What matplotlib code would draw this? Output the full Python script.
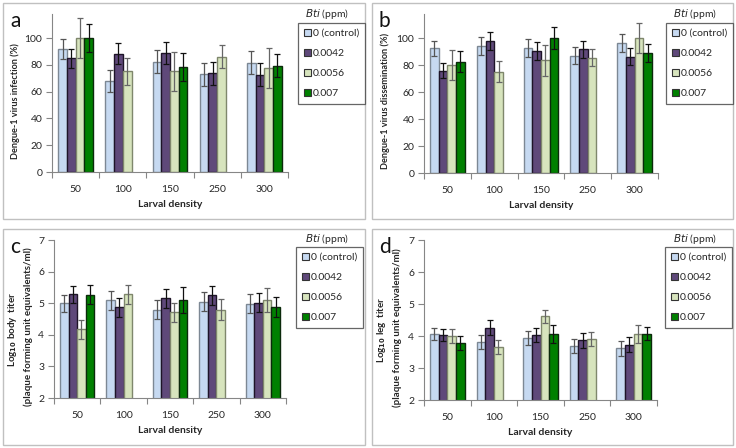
import numpy as np
import matplotlib
matplotlib.use("Agg")
import matplotlib.pyplot as plt
from matplotlib.patches import Rectangle, Patch

plt.rcParams['font.family'] = ['Lato', 'DejaVu Sans']
plt.rcParams['mathtext.fontset'] = 'dejavusans'

nan = np.nan
categories = ['50', '100', '150', '250', '300']
series = ['0 (control)', '0.0042', '0.0056', '0.007']

inf_ctrl = [92, 68, 82.5, 73, 81.5]
inf_ctrl_err = [7.3, 8, 8.3, 8.4, 8.5]
inf_0042 = [85, 88.4, 89, 73.6, 72.6]
inf_0042_err = [7.2, 8, 8, 8.5, 8.6]
inf_0056 = [100, 75.3, 75.3, 86.2, 77.8]
inf_0056_err = [15, 10, 14.5, 8.5, 15]
inf_007 = [100, nan, 78.5, nan, 79.5]
inf_007_err = [10.4, nan, 10.4, nan, 8.5]

dis_ctrl = [92.5, 94, 92.5, 87, 96.5]
dis_ctrl_err = [5.5, 6.7, 6.6, 6.2, 6.5]
dis_0042 = [76, 98.2, 90.5, 91.7, 86.2]
dis_0042_err = [5.7, 6.6, 6.6, 6.6, 6.4]
dis_0056 = [80, 75.2, 83.5, 85.7, 100]
dis_0056_err = [11, 7.9, 11.2, 6.6, 11.2]
dis_007 = [82.7, nan, 100, nan, 89]
dis_007_err = [7.8, nan, 8.2, nan, 6.4]

body_ctrl = [5.0, 5.09, 4.79, 5.04, 4.98]
body_ctrl_err = [0.27, 0.3, 0.3, 0.3, 0.3]
body_0042 = [5.28, 4.87, 5.16, 5.25, 5.02]
body_0042_err = [0.28, 0.3, 0.3, 0.3, 0.31]
body_0056 = [4.18, 5.29, 4.71, 4.8, 5.1]
body_0056_err = [0.3, 0.3, 0.3, 0.32, 0.39]
body_007 = [5.27, nan, 5.1, nan, 4.88]
body_007_err = [0.3, nan, 0.4, nan, 0.32]

leg_ctrl = [4.07, 3.82, 3.94, 3.68, 3.61]
leg_ctrl_err = [0.18, 0.22, 0.22, 0.22, 0.22]
leg_0042 = [4.04, 4.26, 4.03, 3.86, 3.73]
leg_0042_err = [0.19, 0.23, 0.22, 0.23, 0.23]
leg_0056 = [4.0, 3.65, 4.61, 3.91, 4.07]
leg_0056_err = [0.22, 0.22, 0.21, 0.22, 0.28]
leg_007 = [3.78, nan, 4.07, nan, 4.07]
leg_007_err = [0.23, nan, 0.28, nan, 0.21]

face_colors = ['#c6d9f1', '#5f497a', '#d7e4bd', '#008000']
edge_colors = ['#7d8894', '#1e1428', '#7f876c', '#0b2a0b']
err_colors = ['#555555', '#111111', '#666666', '#111111']

W, H = 736, 448
fig = plt.figure(figsize=(W / 100, H / 100), dpi=100)


def fx(px):
    return px / W


def fy(py):
    return 1 - py / H


panels = [
    dict(label='a', box=(3, 3, 365, 219), ax=(52, 14, 288, 172), ylim=(0, 118),
         yticks=[0, 20, 40, 60, 80, 100],
         ylabel='Dengue-1 virus infection (%)', ylx=15, yly=101, yls=6.6, yl1=None,
         data=[(inf_ctrl, inf_ctrl_err), (inf_0042, inf_0042_err),
               (inf_0056, inf_0056_err), (inf_007, inf_007_err)],
         leg=(298, 23), title=(327, 14)),
    dict(label='b', box=(372, 3, 733, 219), ax=(424, 14, 658, 173), ylim=(0, 118),
         yticks=[0, 20, 40, 60, 80, 100],
         ylabel='Dengue-1 virus dissemination (%)', ylx=385, yly=101, yls=6.6, yl1=None,
         data=[(dis_ctrl, dis_ctrl_err), (dis_0042, dis_0042_err),
               (dis_0056, dis_0056_err), (dis_007, dis_007_err)],
         leg=(666, 23), title=(695, 14)),
    dict(label='c', box=(3, 229, 365, 445), ax=(54, 240, 286, 398), ylim=(2, 7),
         yticks=[2, 3, 4, 5, 6, 7],
         ylabel='(plaque forming unit equivalents/ml)', ylx=28, yly=327, yls=7,
         yl1=(r'Log$_{\mathbf{10}}$ body  titer', 13),
         data=[(body_ctrl, body_ctrl_err), (body_0042, body_0042_err),
               (body_0056, body_0056_err), (body_007, body_007_err)],
         leg=(296, 247), title=(327, 239)),
    dict(label='d', box=(372, 229, 733, 445), ax=(424, 240, 657, 400), ylim=(2, 7),
         yticks=[2, 3, 4, 5, 6, 7],
         ylabel='(plaque forming unit equivalents/ml)', ylx=397, yly=328, yls=7,
         yl1=(r'Log$_{\mathbf{10}}$ leg  titer', 382),
         data=[(leg_ctrl, leg_ctrl_err), (leg_0042, leg_0042_err),
               (leg_0056, leg_0056_err), (leg_007, leg_007_err)],
         leg=(665, 247), title=(695, 239)),
]

x = np.arange(len(categories))
bw = 0.185
axis_gray = '#868686'
txt = '#262626'

for p in panels:
    bx0, by0, bx1, by1 = p['box']
    fig.patches.append(Rectangle((fx(bx0), fy(by1)), fx(bx1 - bx0), (by1 - by0) / H,
                                 transform=fig.transFigure, fill=False,
                                 edgecolor='#c0c0c0', linewidth=1.0))
    ax0, ay0, ax1, ay1 = p['ax']
    ax = fig.add_axes([fx(ax0), fy(ay1), fx(ax1 - ax0), (ay1 - ay0) / H])
    for i, (vals, errs) in enumerate(p['data']):
        xs = x + (i - 1.5) * bw
        ax.bar(xs, vals, width=bw, color=face_colors[i], edgecolor=edge_colors[i],
               linewidth=1.0, label=series[i], zorder=2)
        ax.errorbar(xs, vals, yerr=errs, fmt='none', ecolor=err_colors[i],
                    elinewidth=0.9, capsize=2.5, capthick=0.9, zorder=3)
    ax.set_xlim(-0.5, len(categories) - 0.5)
    ax.set_ylim(*p['ylim'])
    ax.set_yticks(p['yticks'])
    ax.set_xticks(x)
    ax.set_xticklabels(categories)
    ax.set_xticks(np.arange(-0.5, len(categories)), minor=True)
    ax.tick_params(axis='x', which='major', length=0, pad=9, labelsize=7.5, labelcolor=txt)
    ax.tick_params(axis='x', which='minor', length=4, color=axis_gray, width=0.8)
    ax.tick_params(axis='y', length=4, color=axis_gray, width=0.8, labelsize=7.5,
                   labelcolor=txt, pad=3)
    for s in ['top', 'right']:
        ax.spines[s].set_visible(False)
    for s in ['left', 'bottom']:
        ax.spines[s].set_color(axis_gray)
        ax.spines[s].set_linewidth(0.8)
    ax.set_xlabel('Larval density', fontsize=7.5, fontweight='bold', color=txt, labelpad=5)
    ax.set_ylabel(p['ylabel'], fontsize=p['yls'], fontweight='bold', color=txt)
    ax.yaxis.set_label_coords((p['ylx'] - ax0) / (ax1 - ax0),
                              (ay1 - p['yly']) / (ay1 - ay0))
    ax.yaxis.label.set_va('center')
    ax.patch.set_visible(False)
    if p['yl1'] is not None:
        s1, px1 = p['yl1']
        fig.text(fx(px1), fy(p['yly'] + 2), s1, rotation=90, fontsize=7,
                 fontweight='bold', color=txt, ha='center', va='center')

    fig.text(fx(bx0 + 7), fy(by0 + 24), p['label'], fontsize=15, color='#111111',
             ha='left', va='baseline')

    handles = [Patch(facecolor=face_colors[i], edgecolor='#333333', linewidth=0.8,
                     label=series[i]) for i in range(4)]
    lx, ly = p['leg']
    leg = fig.legend(handles=handles, loc='upper left',
                     bbox_to_anchor=(fx(lx), fy(ly)), bbox_transform=fig.transFigure,
                     fontsize=7.5, frameon=True, fancybox=False, edgecolor='#404040',
                     handlelength=0.65, handleheight=0.65, handletextpad=0.25,
                     labelspacing=1.05, borderpad=0.55, borderaxespad=0)
    leg.get_frame().set_linewidth(0.9)
    for t in leg.get_texts():
        t.set_color(txt)
    tx, ty = p['title']
    fig.text(fx(tx), fy(ty), r'$\it{Bti}$ (ppm)', fontsize=7.5, color=txt,
             ha='center', va='center')

fig.savefig('out.png', dpi=100)
